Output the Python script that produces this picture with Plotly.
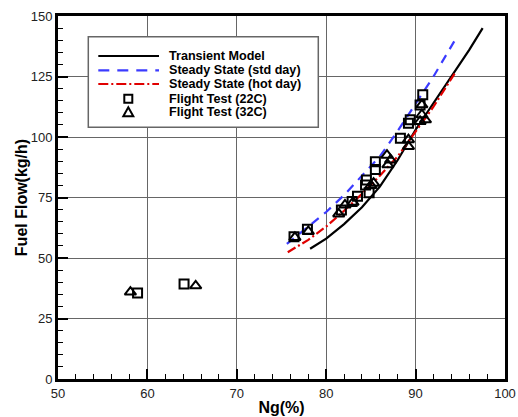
import plotly.graph_objects as go

# Transient model (black solid)
trans_x = [78.2, 80, 82, 84, 86, 88, 90, 92, 94, 96, 97.5]
trans_y = [53.8, 58, 64, 71, 79.5, 90.5, 103, 114, 124.5, 136, 145]

# Steady state std day (blue dashed)
std_x = [75.6, 78, 80, 82, 84, 86, 88, 90, 92, 94.4]
std_y = [55.8, 63, 69, 76, 84, 92, 102.5, 113.5, 125, 140]

# Steady state hot day (red dash-dot)
hot_x = [75.7, 78, 80, 82, 84, 86, 88, 90, 92, 94.5]
hot_y = [52.4, 57.5, 63, 69.5, 76.5, 84, 92, 102, 112.5, 127]

# Flight test 22C (squares)
ft22_x = [58.9, 64.1, 76.4, 77.9, 81.7, 82.9, 83.5, 84.4, 84.5, 84.8, 85.5, 85.5, 88.3, 89.2, 89.4, 90.5, 90.8]
ft22_y = [35.5, 39.3, 58.8, 61.9, 69.8, 73.3, 75.5, 80.2, 82.2, 77.0, 86.6, 89.8, 99.5, 105.7, 107.1, 113.2, 117.5]

# Flight test 32C (triangles)
ft32_x = [58.1, 65.4, 76.5, 78.0, 81.4, 82.1, 83.0, 85.3, 85.0, 86.8, 87.2, 86.9, 89.2, 89.2, 90.5, 91.1, 90.7, 90.7]
ft32_y = [35.9, 38.5, 58.5, 61.0, 68.2, 71.9, 73.0, 80.9, 80.0, 92.5, 90.5, 88.5, 96.1, 98.9, 106.4, 107.1, 109.2, 113.3]

x_ticks = [50, 60, 70, 80, 90, 100]
y_ticks = [0, 25, 50, 75, 100, 125, 150]

legend_labels = ["Transient Model", "Steady State (std day)", "Steady State (hot day)",
                 "Flight Test (22C)", "Flight Test (32C)"]

FONT = "Liberation Sans, Arial"
W, H = 518, 417
ML, MR, MT, MB = 58, 13, 16, 38
PW, PH = W - ML - MR, H - MT - MB


def px(xp):
    return (xp - ML) / PW


def py(yp):
    return (H - MB - yp) / PH


fig = go.Figure()
fig.add_trace(go.Scatter(x=trans_x, y=trans_y, mode="lines", name=legend_labels[0],
                         line=dict(color="black", width=2.2)))
fig.add_trace(go.Scatter(x=std_x, y=std_y, mode="lines", name=legend_labels[1],
                         line=dict(color="#3b3bff", width=2.2, dash="9px,7px")))
fig.add_trace(go.Scatter(x=hot_x, y=hot_y, mode="lines", name=legend_labels[2],
                         line=dict(color="#e00000", width=2.2, dash="9px,3px,2px,3px")))
fig.add_trace(go.Scatter(x=ft22_x, y=ft22_y, mode="markers", name=legend_labels[3],
                         marker=dict(symbol="square-open", size=9, color="black",
                                     line=dict(width=2, color="black"))))
fig.add_trace(go.Scatter(x=ft32_x, y=ft32_y, mode="markers", name=legend_labels[4],
                         marker=dict(symbol="triangle-up-open", size=10, color="black",
                                     line=dict(width=2, color="black"))))

axis_common = dict(
    showline=True, linecolor="black", linewidth=3, mirror=True,
    showgrid=True, gridcolor="#666666", gridwidth=1,
    ticks="inside", ticklen=10, tickwidth=2, tickcolor="black",
    zeroline=False, automargin=False,
    tickfont=dict(family=FONT, size=13, color="#222222"),
)

fig.update_xaxes(range=[50, 100], tickvals=x_ticks,
                 minor=dict(ticks="inside", dtick=2, ticklen=5, tickwidth=1, tickcolor="black", showgrid=False),
                 title=dict(text="<b>Ng(%)</b>", font=dict(family=FONT, size=16, color="black"), standoff=3),
                 **axis_common)
fig.update_yaxes(range=[0, 150], tickvals=y_ticks,
                 minor=dict(ticks="inside", dtick=5, ticklen=5, tickwidth=1, tickcolor="black", showgrid=False),
                 title=dict(text="<b>Fuel Flow(kg/h)</b>", font=dict(family=FONT, size=16, color="black"), standoff=0),
                 **axis_common)

# ---- hand-drawn legend box (matches the original's compact layout) ----
shapes = []
shapes.append(dict(type="rect", xref="paper", yref="paper",
                   x0=px(88.3), x1=px(318.3), y0=py(127.3), y1=py(36.7),
                   line=dict(color="#666666", width=1.5), fillcolor="white", layer="above"))
rows = [56, 70.3, 84, 98.7, 112.3]
line_styles = [dict(color="black", width=2.2),
               dict(color="#3b3bff", width=2.2, dash="11px,8px"),
               dict(color="#e00000", width=2.2, dash="10px,3px,2px,3px")]
for r, ls in zip(rows[:3], line_styles):
    shapes.append(dict(type="line", xref="paper", yref="paper",
                       x0=px(98.3), x1=px(159), y0=py(r), y1=py(r), line=ls, layer="above"))
# square symbol
cx, s = 128.3, 4
r = rows[3]
shapes.append(dict(type="rect", xref="paper", yref="paper",
                   x0=px(cx - s), x1=px(cx + s), y0=py(r + s), y1=py(r - s),
                   line=dict(color="black", width=2), layer="above"))
# triangle symbol
r = rows[4]
tri = "M {:.5f},{:.5f} L {:.5f},{:.5f} L {:.5f},{:.5f} Z".format(
    px(cx - 5), py(r + 4), px(cx + 5), py(r + 4), px(cx), py(r - 5))
shapes.append(dict(type="path", xref="paper", yref="paper", path=tri,
                   line=dict(color="black", width=2), layer="above"))

annotations = []
for lab, r in zip(legend_labels, rows):
    annotations.append(dict(text="<b>" + lab + "</b>", xref="paper", yref="paper",
                            x=px(166.5), y=py(r), xanchor="left", yanchor="middle",
                            showarrow=False, font=dict(family=FONT, size=12.6, color="black")))

fig.update_layout(
    width=W, height=H,
    margin=dict(l=ML, r=MR, t=MT, b=MB),
    plot_bgcolor="white", paper_bgcolor="white",
    font=dict(family=FONT, color="black"),
    showlegend=False,
    shapes=shapes, annotations=annotations,
)

fig.write_html("out.html")
